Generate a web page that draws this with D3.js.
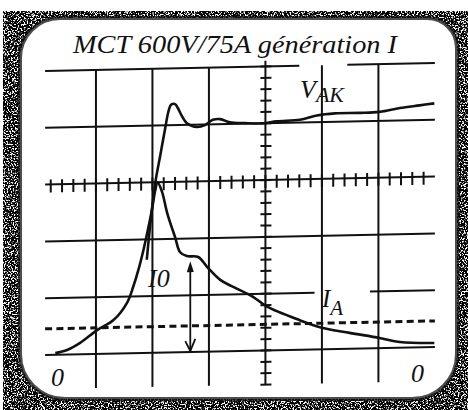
<!DOCTYPE html>
<html>
<head>
<meta charset="utf-8">
<script src="https://cdn.jsdelivr.net/npm/d3@7"></script>
<style>
  html, body { margin: 0; padding: 0; background: #fff; }
  svg { display: block; }
</style>
</head>
<body>
<svg id="chart" width="468" height="410"></svg>
<script>
// Oscilloscope traces, in screen divisions (x: time div, y: div above the 0 line)
const vakX = [1.90, 1.97, 2.05, 2.14, 2.23, 2.28, 2.33, 2.40, 2.45, 2.52, 2.61, 2.79, 2.93, 3.07, 3.20, 3.37, 3.64, 3.96, 4.20, 4.61, 4.91, 5.23, 5.67, 6.02, 6.38, 6.73, 6.99];
const vakY = [1.64, 2.34, 2.99, 3.48, 3.97, 4.23, 4.36, 4.37, 4.30, 4.16, 4.03, 3.96, 3.99, 4.08, 4.09, 4.03, 4.01, 4.00, 4.03, 4.05, 4.12, 4.15, 4.15, 4.16, 4.22, 4.26, 4.29];

const iaX = [0.28, 0.49, 0.72, 1.02, 1.31, 1.55, 1.66, 1.75, 1.84, 1.92, 1.99, 2.05, 2.09, 2.17, 2.26, 2.40, 2.49, 2.61, 2.81, 2.97, 3.20, 3.43, 3.78, 4.03, 4.61, 5.00, 5.49, 6.02, 6.38, 6.99];
const iaY = [0.03, 0.08, 0.20, 0.42, 0.59, 0.89, 1.17, 1.46, 1.81, 2.17, 2.51, 2.86, 3.00, 2.83, 2.46, 2.03, 1.76, 1.69, 1.67, 1.49, 1.26, 1.13, 0.95, 0.77, 0.52, 0.38, 0.28, 0.18, 0.10, 0.07];

// Graticule
const xGrid = [1, 2, 3, 5, 6];          // vertical lines
const xCenter = 4;                       // vertical axis with minor ticks
const yGrid = [0, 1, 2, 4, 5];          // horizontal lines
const yCenter = 3;                       // horizontal axis with minor ticks
const xExtent = [0.1, 7];
const yExtent = [-0.6, 5];
const minorStep = 0.2;
const hGaps = { 5: [4.6, 5.45], 1: [4.87, 5.85] };   // breaks in the printed lines

// Reference level (dashed) and I0 span
const refLevel = 0.46;
const i0X = 2.67, i0Span = [0, 1.6];

// Labels
const title = "MCT 600V/75A génération I";

const svg = d3.select("#chart");
const W = 468, H = 410;

const x = d3.scaleLinear().domain([0, 7]).range([39.45, 434.9]);
const y = d3.scaleLinear().domain([0, 5]).range([355, 71]);

// ---- grainy frame around the screen ----
const defs = svg.append("defs");
const f = defs.append("filter").attr("id", "grain")
  .attr("color-interpolation-filters", "sRGB")
  .attr("filterUnits", "userSpaceOnUse").attr("x", 0).attr("y", 0).attr("width", W).attr("height", H);
f.append("feTurbulence").attr("type", "fractalNoise").attr("baseFrequency", 0.7)
  .attr("numOctaves", 3).attr("seed", 7);
f.append("feColorMatrix").attr("type", "matrix")
  .attr("values", "1 0 0 0 0  1 0 0 0 0  1 0 0 0 0  0 0 0 0 1");
const ct = f.append("feComponentTransfer");
["feFuncR", "feFuncG", "feFuncB"].forEach(n =>
  ct.append(n).attr("type", "linear").attr("slope", 9).attr("intercept", -4.6));

function roundRect(l, t, r, b, tl, tr, br, bl) {
  return `M${l + tl},${t}H${r - tr}A${tr},${tr} 0 0 1 ${r},${t + tr}V${b - br}` +
    `A${br},${br} 0 0 1 ${r - br},${b}H${l + bl}A${bl},${bl} 0 0 1 ${l},${b - bl}` +
    `V${t + tl}A${tl},${tl} 0 0 1 ${l + tl},${t}Z`;
}
const outer = `M3,11H${W}V${H}H3Z`;
const inner = roundRect(20, 18, 457, 399, 40, 30, 45, 45);

defs.append("clipPath").attr("id", "frameClip")
  .append("path").attr("d", outer + inner).attr("clip-rule", "evenodd");

svg.append("rect").attr("width", W).attr("height", H).attr("fill", "#fff");
svg.append("rect").attr("width", W).attr("height", H)
  .attr("filter", "url(#grain)").attr("clip-path", "url(#frameClip)");
svg.append("path").attr("d", inner).attr("fill", "none")
  .attr("stroke", "#111").attr("stroke-width", 4).attr("stroke-opacity", 0.75);

// ---- screen contents (the print is slightly sheared) ----
const k = 0.0205;
const screen = svg.append("g")
  .attr("transform", `translate(0,${(k * 45).toFixed(2)}) skewY(${(-Math.atan(k) * 180 / Math.PI).toFixed(3)})`);

const ink = "#111";

// horizontal lines (with their breaks)
yGrid.concat([yCenter]).forEach(v => {
  const gap = hGaps[v];
  const segs = gap ? [[xExtent[0], gap[0]], [gap[1], xExtent[1]]] : [xExtent];
  segs.forEach(s => screen.append("line")
    .attr("x1", x(s[0])).attr("x2", x(s[1])).attr("y1", y(v)).attr("y2", y(v))
    .attr("stroke", ink).attr("stroke-width", 2));
});

// vertical lines
xGrid.forEach(v => screen.append("line")
  .attr("x1", x(v)).attr("x2", x(v)).attr("y1", y(yExtent[1])).attr("y2", y(yExtent[0]))
  .attr("stroke", ink).attr("stroke-width", 2));
screen.append("line")
  .attr("x1", x(xCenter)).attr("x2", x(xCenter)).attr("y1", y(5.1)).attr("y2", y(yExtent[0]))
  .attr("stroke", ink).attr("stroke-width", 2);

// minor ticks on the two centre axes
const hTicks = d3.range(minorStep, xExtent[1] - 0.1, minorStep);
screen.selectAll(".htick").data(hTicks).join("line")
  .attr("x1", d => x(d)).attr("x2", d => x(d))
  .attr("y1", y(yCenter) - 5).attr("y2", y(yCenter) + 8)
  .attr("stroke", ink).attr("stroke-width", 2);
const vTicks = d3.range(yExtent[0], 5.11, minorStep);
screen.selectAll(".vtick").data(vTicks).join("line")
  .attr("x1", x(xCenter) - 5).attr("x2", x(xCenter) + 6)
  .attr("y1", d => y(d)).attr("y2", d => y(d))
  .attr("stroke", ink).attr("stroke-width", 2);

// dashed reference level
screen.append("line")
  .attr("x1", x(xExtent[0])).attr("x2", x(xExtent[1]))
  .attr("y1", y(refLevel)).attr("y2", y(refLevel))
  .attr("stroke", ink).attr("stroke-width", 3).attr("stroke-dasharray", "7 4.3");

// traces
const line = d3.line().x(d => x(d[0])).y(d => y(d[1])).curve(d3.curveCatmullRom.alpha(0.5));
screen.append("path").datum(d3.zip(iaX, iaY)).attr("d", line)
  .attr("fill", "none").attr("stroke", ink).attr("stroke-width", 2.6).attr("stroke-linejoin", "round");
screen.append("path").datum(d3.zip(vakX, vakY)).attr("d", line)
  .attr("fill", "none").attr("stroke", ink).attr("stroke-width", 2.6).attr("stroke-linejoin", "round");

// I0 arrow
const ax = x(i0X), aTop = y(i0Span[1]), aBot = y(i0Span[0]);
screen.append("line").attr("x1", ax).attr("x2", ax).attr("y1", aTop + 6).attr("y2", aBot)
  .attr("stroke", ink).attr("stroke-width", 1.8);
screen.append("path")
  .attr("d", `M${ax},${aTop}L${ax - 3.5},${aTop + 11}L${ax + 3.5},${aTop + 11}Z`).attr("fill", ink);
screen.append("path")
  .attr("d", `M${ax - 5},${aBot - 11}L${ax},${aBot - 1}L${ax + 5},${aBot - 13}`)
  .attr("fill", "none").attr("stroke", ink).attr("stroke-width", 1.8);

// ---- text ----
const serif = "'Liberation Serif', 'DejaVu Serif', serif";
function label(px, py, size) {
  return svg.append("text").attr("x", px).attr("y", py)
    .attr("font-family", serif).attr("font-style", "italic")
    .attr("font-size", size).attr("fill", ink);
}
label(73, 53, 26).text(title).attr("textLength", 324).attr("lengthAdjust", "spacingAndGlyphs");

const vak = label(300, 98, 26);
vak.append("tspan").text("V");
vak.append("tspan").attr("font-size", 22).attr("dy", 4).text("AK");

const ia = label(322, 307, 25);
ia.append("tspan").text("I");
ia.append("tspan").attr("font-size", 21).attr("dy", 8).text("A");

label(148, 287, 26).text("I0");
label(51, 386, 26).text("0");
label(411, 382, 26).text("0");
</script>
</body>
</html>
